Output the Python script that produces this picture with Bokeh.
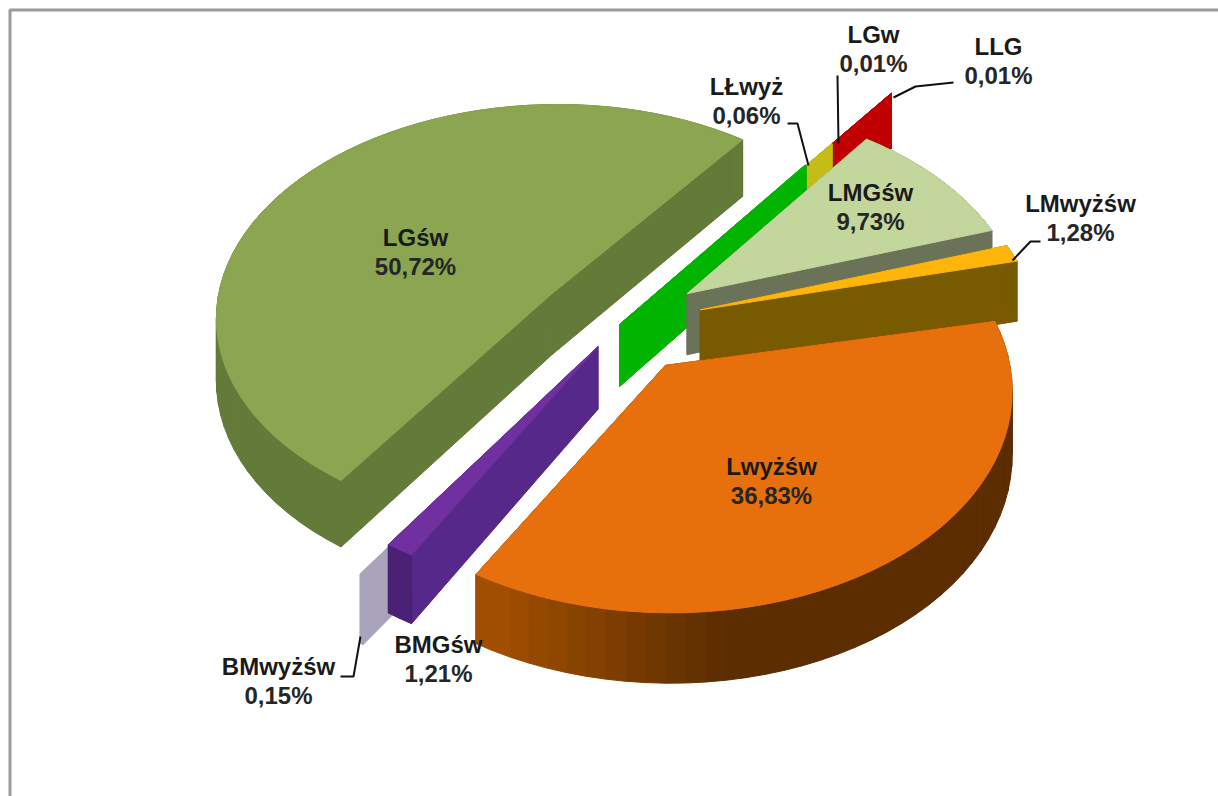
import math
from bokeh.plotting import figure
from bokeh.embed import file_html
from bokeh.resources import INLINE
from bokeh.core.properties import value

# ---- data ----
names = ["LLG", "LMGśw", "LMwyżśw", "Lwyżśw", "BMGśw", "BMwyżśw", "LGśw", "LŁwyż", "LGw"]
shares = [0.01, 9.73, 1.28, 36.83, 1.21, 0.15, 50.72, 0.06, 0.01]

# ---- per-slice explosion, small turn of the slice, paint order and style ----
explode = [0.51, 0.25, 0.25, 0.23, 0.12, 0.25, 0.25, 0.0, 0.15]
turn = [0.0, 0.0, 0.0, 2.0, 0.6, -0.4, 0.6, 0.0, 0.0]
top_col = ["#c00000", "#c3d69b", "#ffb50a", "#e8700c", "#7030a0", "#a9a3bc", "#8ba550", "#00b400", "#c4bd18"]
wall_col = ["#c00000", "#6a7358", "#785a00", "#5c2d00", "#56288a", "#a9a3bc", "#637a38", "#00b400", "#c4bd18"]
paint = ["LLG", "LGw", "LŁwyż", "LGśw", "LMGśw", "LMwyżśw", "BMwyżśw", "BMGśw", "Lwyżśw"]

# ---- projection ----
CX, CY, RX, RY, K, DEPTH = 619, 324, 338, 214, 0.10, 62
START = -53.36  # angle at which LLG begins (clockwise on screen)


def proj(u, v, down=0.0):
    w = 1 / (1 - K * v)
    return CX + RX * u * w, CY + RY * v * w + down * w


def mix(c, f):
    r, g, b = int(c[1:3], 16), int(c[3:5], 16), int(c[5:7], 16)
    return "#%02x%02x%02x" % tuple(min(255, int(x * f)) for x in (r, g, b))


def arc_shade(name, t):
    d = (t % 360)
    if name == "Lwyżśw":
        if d > 180:
            return 1.0
        return 1.0 + 0.75 * max(0.0, min(1.0, (d - 82) / 34))
    if name == "BMGśw":
        return 0.85
    return 1.0


xs, ys, cols = [], [], []


def add(poly, c):
    xs.append([q[0] for q in poly])
    ys.append([q[1] for q in poly])
    cols.append(c)


limits = {}
a = START
for n, s, tn in zip(names, shares, turn):
    b = a + s * 3.6
    limits[n] = (a + tn, b + tn)
    a = b

for n in paint:
    i = names.index(n)
    t0, t1 = limits[n]
    mid = math.radians((t0 + t1) / 2)
    ou, ov = explode[i] * math.cos(mid), explode[i] * math.sin(mid)
    steps = max(2, int((t1 - t0) / 3))
    rim = []
    for j in range(steps + 1):
        t = math.radians(t0 + (t1 - t0) * j / steps)
        rim.append((ou + math.cos(t), ov + math.sin(t), t0 + (t1 - t0) * j / steps))
    for e in (rim[0], rim[-1]):
        add([proj(ou, ov), proj(e[0], e[1]), proj(e[0], e[1], DEPTH), proj(ou, ov, DEPTH)], wall_col[i])
    for p0, p1 in zip(rim, rim[1:]):
        add([proj(p0[0], p0[1]), proj(p1[0], p1[1]), proj(p1[0], p1[1], DEPTH), proj(p0[0], p0[1], DEPTH)],
            mix(wall_col[i], arc_shade(n, (p0[2] + p1[2]) / 2)))
    add([proj(ou, ov)] + [proj(e[0], e[1]) for e in rim], top_col[i])

p = figure(width=1218, height=796, x_range=(0, 1218), y_range=(796, 0),
           output_backend="svg", toolbar_location=None, min_border=0,
           background_fill_color="white", border_fill_color="white", outline_line_color=None)
p.xaxis.visible = False
p.yaxis.visible = False
p.xgrid.visible = False
p.ygrid.visible = False

# chart frame
p.line([9.5, 9.5, 1218], [796, 9.5, 9.5], line_color="#9a9a9a", line_width=3)

p.patches(xs, ys, fill_color=cols, line_color=cols, line_width=1)

# leader lines
leaders = [
    ([787, 797, 808], [123, 123, 165]),
    ([837, 838], [75, 143]),
    ([893, 915, 953], [97, 86, 82]),
    ([1012, 1030, 1040], [260, 241, 241]),
    ([340, 353, 360], [676, 676, 636]),
]
for lx, ly in leaders:
    p.line(lx, ly, line_color="#111111", line_width=2)

# labels
label_x = {"LLG": 998, "LMGśw": 870, "LMwyżśw": 1080, "Lwyżśw": 771, "BMGśw": 438,
           "BMwyżśw": 278, "LGśw": 415, "LŁwyż": 746, "LGw": 873}
label_y = {"LLG": 46, "LMGśw": 192, "LMwyżśw": 203, "Lwyżśw": 466, "BMGśw": 644,
           "BMwyżśw": 666, "LGśw": 237, "LŁwyż": 86, "LGw": 34}
for n, s in zip(names, shares):
    pct = f"{s:.2f}".replace(".", ",") + "%"
    p.text([label_x[n]], [label_y[n]], text=[n], text_align="center", text_baseline="middle",
           text_font=value("Liberation Sans"), text_font_style="bold", text_font_size="24px", text_color="#1a1a1a")
    p.text([label_x[n]], [label_y[n] + 29], text=[pct], text_align="center", text_baseline="middle",
           text_font=value("Liberation Sans"), text_font_style="bold", text_font_size="24px", text_color="#262626")

open("out.html", "w").write(file_html(p, INLINE))
